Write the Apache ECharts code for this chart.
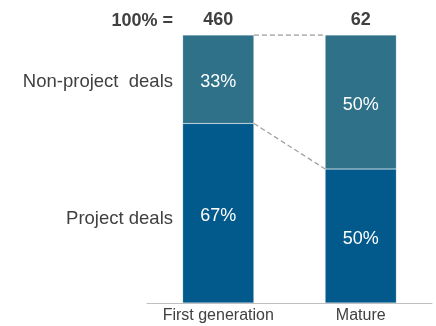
<!DOCTYPE html>
<html>
<head>
<meta charset="utf-8">
<script src="https://cdn.jsdelivr.net/npm/echarts@6/dist/echarts.min.js"></script>
<style>html,body{margin:0;padding:0;background:#fff;}#c{width:436px;height:326px;}</style>
</head>
<body>
<div id="c"></div>
<script>
var categories = ['First generation', 'Mature'];
var projectDeals = [67, 50];
var nonProjectDeals = [33, 50];
var totals = [460, 62];
var rowLabels = ['Non-project  deals', 'Project deals'];
var totalLabel = '100% =';

var chart = echarts.init(document.getElementById('c'), null, {renderer: 'canvas'});
var font = 'Liberation Sans, Arial, sans-serif';
var txt = '#404040';

// connector lines between bar edges (half-band offsets on hidden value axis)
var topConn = [[0.25, projectDeals[0] + nonProjectDeals[0]], [0.75, projectDeals[1] + nonProjectDeals[1]]];
var midConn = [[0.25, projectDeals[0]], [0.75, projectDeals[1]]];

chart.setOption({
  animation: false,
  grid: {left: 147, right: 4, top: 35, bottom: 23},
  xAxis: [{
    type: 'category', data: categories,
    axisLine: {lineStyle: {color: '#BFBFBF', width: 1}},
    axisTick: {show: false},
    axisLabel: {interval: 0, color: txt, fontSize: 16, fontFamily: font, margin: 5}
  }, {
    type: 'value', min: -0.5, max: 1.5, show: false
  }],
  yAxis: {type: 'value', min: 0, max: 100, show: false},
  series: [{
    type: 'bar', stack: 's', barWidth: '50%', data: projectDeals,
    itemStyle: {color: '#02598B', borderColor: 'rgba(255,255,255,0.45)', borderWidth: 0.5},
    label: {show: true, position: 'inside', color: '#fff', fontSize: 18, fontFamily: font, offset: [0, 3],
      formatter: function (p) { return p.value + '%'; }}
  }, {
    type: 'bar', stack: 's', barWidth: '50%', data: nonProjectDeals,
    itemStyle: {color: '#2E7189', borderColor: 'rgba(255,255,255,0.45)', borderWidth: 0.5},
    label: {show: true, position: 'inside', color: '#fff', fontSize: 18, fontFamily: font, offset: [0, 3],
      formatter: function (p) { return p.value + '%'; }}
  }, {
    type: 'bar', stack: 's', barWidth: '50%', data: [0, 0],
    itemStyle: {color: 'transparent'},
    label: {show: true, position: 'top', distance: 6, color: txt, fontSize: 18, fontWeight: 'bold', fontFamily: font,
      formatter: function (p) { return totals[p.dataIndex]; }}
  }, {
    type: 'line', xAxisIndex: 1, data: topConn, symbol: 'none',
    lineStyle: {color: '#A0A0A0', width: 1.3, type: [5, 3]}
  }, {
    type: 'line', xAxisIndex: 1, data: midConn, symbol: 'none',
    lineStyle: {color: '#A0A0A0', width: 1.3, type: [5, 3]}
  }]
});

var yTop = chart.convertToPixel({yAxisIndex: 0}, 100);
var yNon = chart.convertToPixel({yAxisIndex: 0}, projectDeals[0] + nonProjectDeals[0] / 2);
var yProj = chart.convertToPixel({yAxisIndex: 0}, projectDeals[0] / 2);
chart.setOption({
  graphic: [
    {type: 'text', right: 263, top: yTop - 23, style: {text: totalLabel, fill: txt, font: 'bold 18px ' + font, textAlign: 'right'}},
    {type: 'text', right: 263, top: yNon - 7, style: {text: rowLabels[0], fill: txt, font: '18.5px ' + font, textAlign: 'right'}},
    {type: 'text', right: 263, top: yProj - 4, style: {text: rowLabels[1], fill: txt, font: '18.5px ' + font, textAlign: 'right'}}
  ]
});
</script>
</body>
</html>
